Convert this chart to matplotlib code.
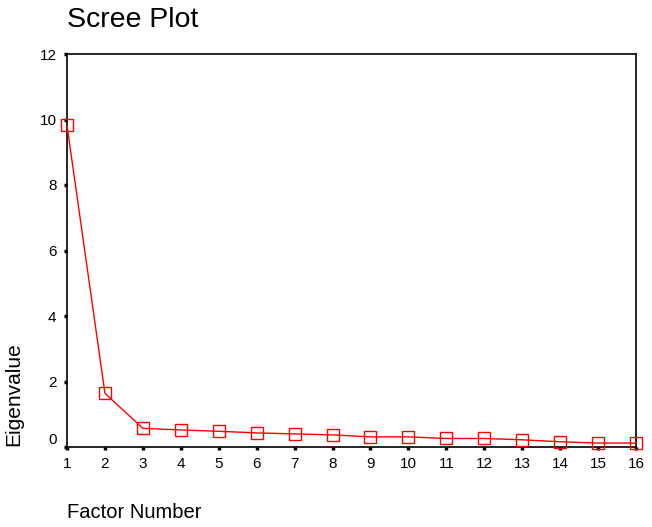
import matplotlib
matplotlib.use("Agg")
import matplotlib.pyplot as plt
import matplotlib.transforms as mtransforms

plt.rcParams['font.family'] = ['Liberation Sans', 'DejaVu Sans']

factors = list(range(1, 17))
eigenvalues = [9.82, 1.64, 0.57, 0.52, 0.48, 0.43, 0.40, 0.37, 0.31, 0.31,
               0.26, 0.26, 0.22, 0.16, 0.12, 0.12]
y_ticks = [0, 2, 4, 6, 8, 10, 12]

fig = plt.figure(figsize=(6.52, 5.27), dpi=100)
ax = fig.add_axes([67/652, 1-447/527, (636-67)/652, (447-54)/527])

ax.plot(factors, eigenvalues, color='#ff0000', lw=1.0, marker='s', markersize=9,
        markerfacecolor='none', markeredgecolor='#ff0000', markeredgewidth=1.0,
        clip_on=False, zorder=3)

ax.set_xlim(1, 16)
ax.set_ylim(0, 12)
ax.set_xticks(factors)
ax.set_yticks(y_ticks)
ax.tick_params(direction='out', length=2.5, width=2.5, labelsize=11, pad=5)
for s in ax.spines.values():
    s.set_linewidth(1.2)
    s.set_color('black')

# shift the "0" label up slightly as in the reference
lbl0 = ax.get_yticklabels()[0]
lbl0.set_transform(lbl0.get_transform() + mtransforms.ScaledTranslation(0, 8/100, fig.dpi_scale_trans))

fig.text(67/652, 1-20/527, 'Scree Plot', fontsize=20.5, ha='left', va='center')
fig.text(67/652, 1-512/527, 'Factor Number', fontsize=14.5, ha='left', va='center')
fig.text(14/652, 1-446/527, 'Eigenvalue', fontsize=15, rotation=90, ha='center', va='bottom')

fig.savefig('out.png', dpi=100)
